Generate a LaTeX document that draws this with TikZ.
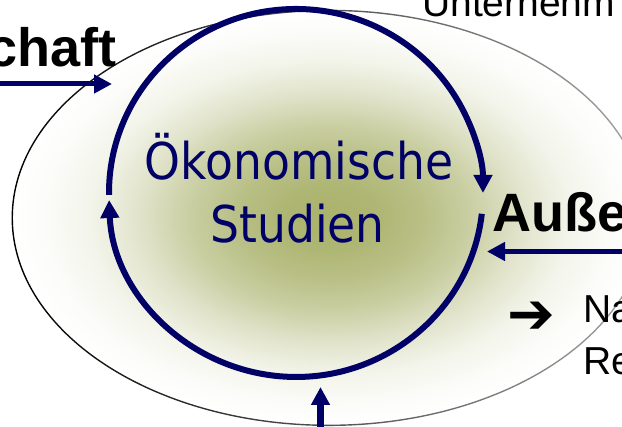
\documentclass[tikz,border=0pt]{standalone}
\usepackage{fontspec}
\usetikzlibrary{arrows.meta,fadings}
\newfontfamily\navyfont[FakeStretch=0.9]{DejaVu Sans}
\newfontfamily\arialfont{Liberation Sans}
\newfontfamily\symfont{DejaVu Sans}
\definecolor{navy}{RGB}{0,0,102}
\definecolor{olivec}{RGB}{170,178,108}
\pgfdeclareradialshading{oliveglow}{\pgfpoint{0bp}{0bp}}{color(0bp)=(olivec); color(7.5bp)=(olivec!95!white); color(15bp)=(olivec!82!white); color(22.5bp)=(olivec!62!white); color(30bp)=(olivec!36!white); color(37.5bp)=(olivec!15!white); color(45bp)=(olivec!4!white); color(50bp)=(white)}
\tikzfading[name=fadeR, left color=transparent!0, right color=transparent!65]
\tikzset{
  circline/.style={draw=navy, line width=6pt},
  tipbig/.style={-{Triangle[length=18pt,width=18pt]}},
  feedline/.style={draw=navy, line width=5pt, -{Triangle[length=18pt,width=18pt]}},
  navytext/.style={inner sep=0pt, text=navy, font=\navyfont\fontsize{50.7}{60}\selectfont},
  boldtext/.style={inner sep=0pt, text=black, font=\arialfont\bfseries\fontsize{54}{60}\selectfont},
  plaintext/.style={inner sep=0pt, text=black, font=\arialfont\fontsize{39}{45}\selectfont},
  symtext/.style={inner sep=0pt, text=black, font=\symfont\fontsize{57}{60}\selectfont},
}
\begin{document}
\begin{tikzpicture}[x=1pt,y=-1pt]
\useasboundingbox (0,0) rectangle (622,427);
\begin{scope}
\clip (0,0) rectangle (622,427);
\begin{scope}
\clip (329.5,217.6) ellipse [x radius=317, y radius=207.6];
\node[inner sep=0pt, outer sep=0pt] (glow) at (329.5,217.6) {\scalebox{6.316}[4.137]{\pgfuseshading{oliveglow}}};
\end{scope}
\draw[black, line width=1.4pt, path fading=fadeR] (329.5,217.6) ellipse [x radius=317, y radius=207.6];

% circle arcs
\draw[circline, tipbig] (109,194.9) arc[start angle=179.4, end angle=360, x radius=187, y radius=184];
\draw[circline, tipbig] (481.8,213.8) arc[start angle=6.5, end angle=177.8, x radius=187, y radius=184];

% texts
\node[navytext, anchor=base] (oek) at (299,180) {Ökonomische};
\node[navytext, anchor=base] (stud) at (297.5,243) {Studien};
\node[boldtext, anchor=base east] (chaft) at (117,67) {chaft};
\node[boldtext, anchor=base west] (ausse) at (492,232) {Auße};
\node[plaintext, anchor=base west] (unter) at (422,17) {Unternehm};
\node[plaintext, anchor=base west] (na) at (583,323) {Na};
\node[plaintext, anchor=base west] (re) at (583,375) {Re};
\node[symtext, anchor=base west] (arr) at (507,334) {➔};

% feed arrows
\coordinate (lfrom) at (-5,84);
\coordinate (lto) at (112,84);
\coordinate (rfrom) at (630,251.5);
\coordinate (rto) at (487,251.5);
\coordinate (bfrom) at (320.5,435);
\coordinate (bto) at (320.5,387);
\draw[feedline] (lfrom) -- (lto);
\draw[feedline] (rfrom) -- (rto);
\draw[feedline, line width=6.5pt] (bfrom) -- (bto);
\end{scope}
\end{tikzpicture}
\end{document}
